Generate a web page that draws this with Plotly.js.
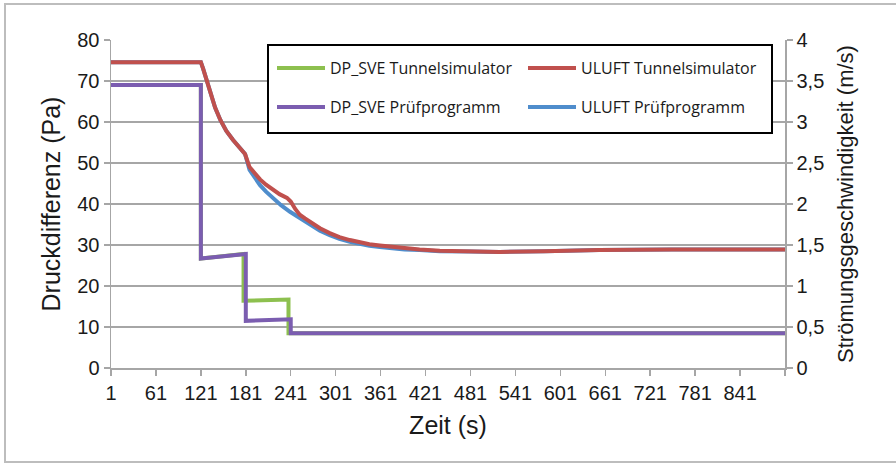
<!DOCTYPE html>
<html>
<head>
<meta charset="utf-8">
<script src="https://cdn.plot.ly/plotly-3.0.1.min.js"></script>
<style>
  html, body { margin: 0; padding: 0; background: #ffffff; }
  #chart { width: 896px; height: 464px; }
</style>
</head>
<body>
<div id="chart"></div>
<script>
// ---- Data ----
// x: Zeit (s); step series repeat x for the vertical drops
const tickVals = [1, 61, 121, 181, 241, 301, 361, 421, 481, 541, 601, 661, 721, 781, 841, 901];
const tickText = ["1", "61", "121", "181", "241", "301", "361", "421", "481", "541", "601", "661", "721", "781", "841", ""];

// DP_SVE Tunnelsimulator (Pa)
const dpTunnelX = [1, 121, 121, 178, 178, 238, 238, 901];
const dpTunnelY = [69.0, 69.0, 26.7, 27.8, 16.4, 16.7, 8.5, 8.5];

// DP_SVE Prüfprogramm (Pa)
const dpPruefX = [1, 121, 121, 181, 181, 241, 241, 901];
const dpPruefY = [69.0, 69.0, 26.7, 27.8, 11.5, 11.9, 8.5, 8.5];

// ULUFT Tunnelsimulator (m/s)
const uTunnelX = [1, 121, 124, 127, 130, 134, 140, 147, 155, 164, 173, 180, 186, 193, 200, 208, 217, 226, 236, 241, 247, 253, 260, 266, 280, 293, 306, 320, 333, 346, 360, 373, 393, 413, 440, 480, 520, 580, 653, 750, 901];
const uTunnelY = [3.73, 3.73, 3.65, 3.565, 3.475, 3.35, 3.175, 3.025, 2.89, 2.78, 2.675, 2.61, 2.45, 2.365, 2.30, 2.235, 2.17, 2.12, 2.075, 2.03, 1.94, 1.87, 1.825, 1.785, 1.705, 1.645, 1.595, 1.56, 1.53, 1.51, 1.495, 1.48, 1.46, 1.445, 1.43, 1.42, 1.415, 1.425, 1.44, 1.445, 1.445];

// ULUFT Prüfprogramm (m/s)
const uPruefX = [1, 121, 124, 127, 130, 134, 140, 147, 155, 164, 173, 180, 186, 193, 200, 208, 217, 228, 240, 253, 266, 280, 293, 306, 320, 333, 346, 360, 373, 393, 413, 440, 480, 520, 580, 653, 750, 901];
const uPruefY = [3.73, 3.73, 3.65, 3.565, 3.475, 3.35, 3.175, 3.025, 2.89, 2.78, 2.675, 2.61, 2.415, 2.315, 2.23, 2.15, 2.075, 1.985, 1.905, 1.83, 1.745, 1.675, 1.62, 1.575, 1.54, 1.51, 1.49, 1.475, 1.46, 1.445, 1.44, 1.425, 1.42, 1.415, 1.425, 1.44, 1.445, 1.445];

// ---- Styling ----
const green = "#8dc04f", purple = "#7b5db0", red = "#c0504d", blue = "#4f8dcc";
const axisGray = "#a6a6a6";
const FAM = "Liberation Sans, Arial, sans-serif";
const tickFont = { family: FAM, size: 20, color: "#1a1a1a" };
const legFont = { family: "Open Sans, sans-serif", size: 16, color: "#1a1a1a" };

const traces = [
  { x: dpTunnelX, y: dpTunnelY, name: "DP_SVE Tunnelsimulator", mode: "lines", type: "scatter",
    line: { color: green, width: 4 }, yaxis: "y", legend: "legend" },
  { x: dpPruefX, y: dpPruefY, name: "DP_SVE Prüfprogramm", mode: "lines", type: "scatter",
    line: { color: purple, width: 4 }, yaxis: "y", legend: "legend2" },
  { x: uPruefX, y: uPruefY, name: "ULUFT Prüfprogramm", mode: "lines", type: "scatter",
    line: { color: blue, width: 4 }, yaxis: "y2", legend: "legend4" },
  { x: uTunnelX, y: uTunnelY, name: "ULUFT Tunnelsimulator", mode: "lines", type: "scatter",
    line: { color: red, width: 4 }, yaxis: "y2", legend: "legend3" }
];

const L = 111, R = 785, T = 40, B = 368, W = 896, H = 464;
const px = v => (v - L) / (R - L);
const py = v => (B - v) / (B - T);

function leg(xp, yp) {
  return { x: px(xp), y: py(yp), xanchor: "left", yanchor: "middle", bgcolor: "rgba(0,0,0,0)",
           borderwidth: 0, font: legFont, itemwidth: 48 };
}

const layout = {
  width: W, height: H,
  margin: { l: L, r: W - R, t: T, b: H - B, pad: 0 },
  paper_bgcolor: "#ffffff", plot_bgcolor: "#ffffff",
  separators: ",.",
  xaxis: {
    range: [1, 901], tickmode: "array", tickvals: tickVals, ticktext: tickText,
    showgrid: false, zeroline: false, showline: true, linecolor: axisGray, linewidth: 1.5,
    ticks: "outside", ticklen: 6, tickcolor: axisGray, tickwidth: 1.5, tickfont: tickFont,
    title: { text: "Zeit (s)", font: { family: FAM, size: 25, color: "#1a1a1a" }, standoff: 14 }
  },
  yaxis: {
    range: [0, 80], dtick: 10, showgrid: true, gridcolor: axisGray, gridwidth: 1.5, zeroline: false,
    showline: true, linecolor: axisGray, linewidth: 1.5,
    ticks: "outside", ticklen: 6, tickcolor: axisGray, tickwidth: 1.5, tickfont: tickFont,
    title: { text: "Druckdifferenz (Pa)", font: { family: FAM, size: 25, color: "#1a1a1a" }, standoff: 9 }
  },
  yaxis2: {
    range: [0, 4], dtick: 0.5, overlaying: "y", side: "right", showgrid: false, zeroline: false,
    showline: true, linecolor: axisGray, linewidth: 1.5,
    ticks: "outside", ticklen: 6, tickcolor: axisGray, tickwidth: 1.5, tickfont: tickFont,
    title: { text: "Strömungsgeschwindigkeit (m/s)", font: { family: FAM, size: 22, color: "#1a1a1a" }, standoff: 14 }
  },
  showlegend: true,
  legend: leg(272, 68),
  legend2: leg(272, 107),
  legend3: leg(523, 68),
  legend4: leg(523, 107),
  shapes: [
    { type: "rect", xref: "paper", yref: "paper", x0: px(5), x1: px(905), y0: py(462), y1: py(4),
      line: { color: "#bdbdbd", width: 2 }, fillcolor: "rgba(0,0,0,0)", layer: "below" },
    { type: "rect", xref: "paper", yref: "paper", x0: px(268), x1: px(772), y0: py(133), y1: py(45),
      line: { color: "#000000", width: 2 }, fillcolor: "#ffffff", layer: "above" }
  ]
};

Plotly.newPlot("chart", traces, layout, { displayModeBar: false, staticPlot: true });
</script>
</body>
</html>
